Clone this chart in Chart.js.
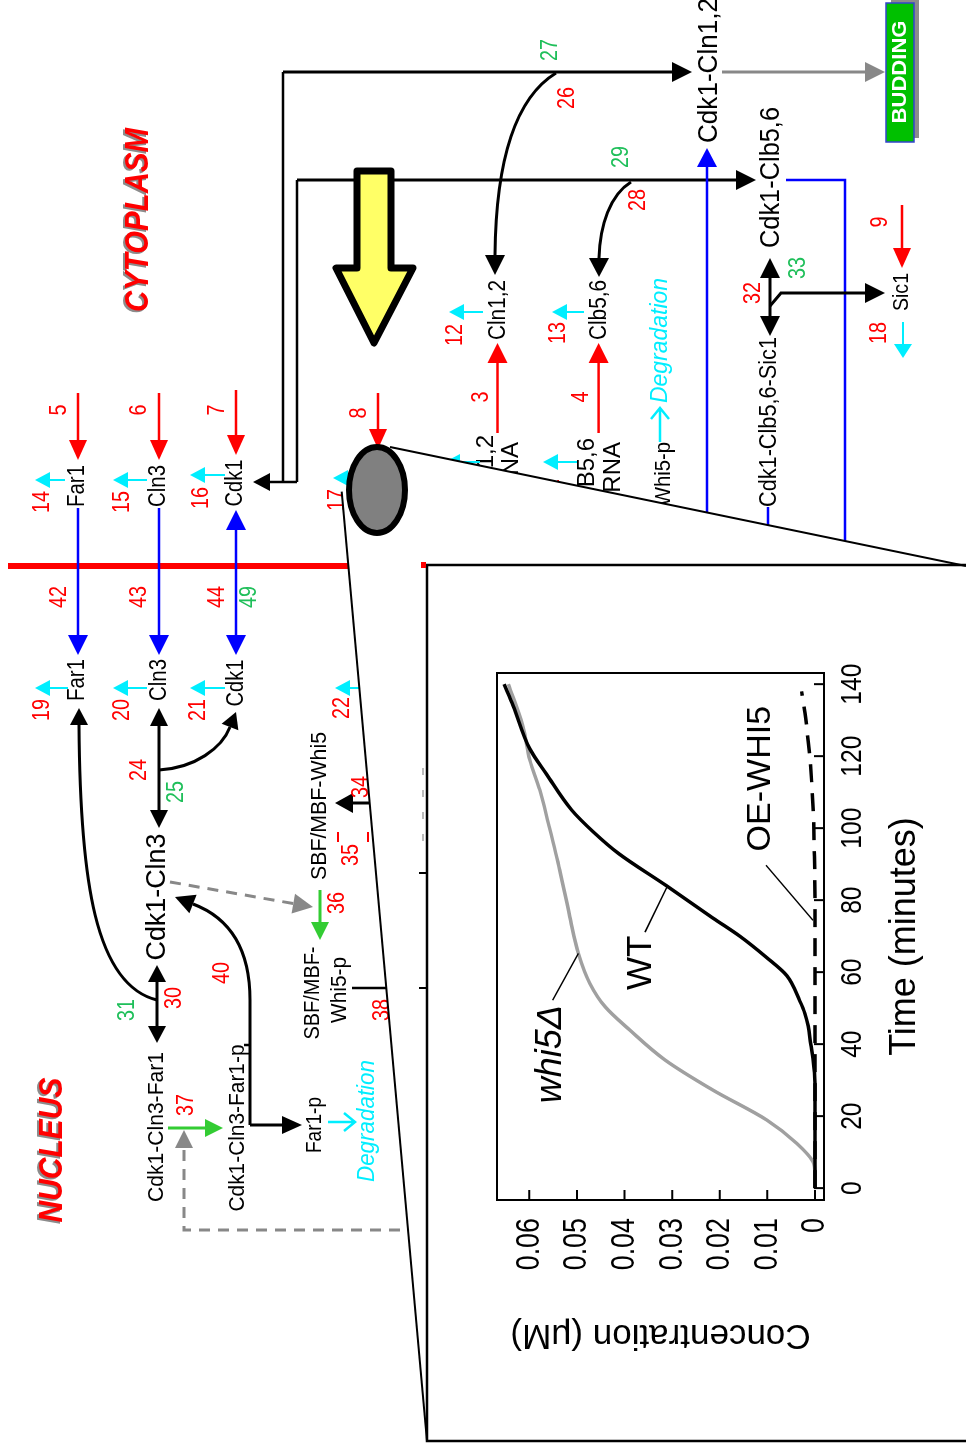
<!DOCTYPE html>
<html>
<head>
<meta charset="utf-8">
<script src="https://cdn.jsdelivr.net/npm/chart.js@4.4.1/dist/chart.umd.min.js"></script>
<style>
  html, body { margin: 0; padding: 0; background: #fff; }
  #page { position: relative; width: 966px; height: 1449px; overflow: hidden; background: #fff; }
  #diagram { position: absolute; left: 0; top: 0; }
  /* the inset is a normal chart turned a quarter turn counter-clockwise */
  #inset { position: absolute; left: 355px; top: 785px; width: 710px; height: 460px; transform: rotate(-90deg); }
</style>
</head>
<body>
<div id="page">
  <canvas id="diagram" width="966" height="1449"></canvas>
  <div id="inset"><canvas id="chart" width="710" height="460"></canvas></div>
</div>
<script>
// --- inset chart data (time in minutes, concentration in µM) ---
const wtTime = [0, 10, 20, 29, 36, 40, 45, 48.5, 52, 59, 64, 70, 75, 84, 93, 99, 105, 115, 122, 134, 140];
const wtConc = [0, 0, 0, 0, 0.0004, 0.0009, 0.0014, 0.0021, 0.0032, 0.0059, 0.0101, 0.0158, 0.0214, 0.0312, 0.0413, 0.0466, 0.0511, 0.0564, 0.0599, 0.0634, 0.0653];

const whi5Time = [0, 4, 7.3, 12.4, 18.9, 27.2, 35.6, 43.9, 50.4, 56.9, 65.2, 75.4, 88.3, 101.3, 110.6, 118.9, 128.1, 140];
const whi5Conc = [0, 0, 0.0004, 0.0038, 0.0101, 0.0214, 0.0315, 0.0389, 0.0441, 0.0473, 0.0497, 0.0515, 0.0536, 0.0560, 0.0578, 0.0599, 0.0613, 0.0644];

const oeTime = [0, 20, 40, 60, 80, 92, 106, 113, 120, 124, 132, 138];
const oeConc = [0, 0, 0, 0, 0, 0.0001, 0.0004, 0.0007, 0.0011, 0.0014, 0.0021, 0.0028];

const timeTicks = [0, 20, 40, 60, 80, 100, 120, 140];
const timeLabels = ['0', '20', '40', '60', '80', '100', '120', '140'];
const concTicks = [0, 0.01, 0.02, 0.03, 0.04, 0.05, 0.06];
const concLabels = ['0', '0.01', '0.02', '0.03', '0.04', '0.05', '0.06'];

const SANS = "'Liberation Sans', Arial, sans-serif";

// --- background diagram (page coordinates, text reads bottom to top) ---
const dg = document.getElementById('diagram').getContext('2d');
const RED = '#ff0000', GRN = '#1fbf5a', GRN_A = '#33cc33', CYAN = '#00eeff', BLUE = '#0000ff', GRAY = '#888888';

function txt(s, x, y, size, len, color, o = {}) {
  dg.save();
  dg.translate(x, y);
  dg.rotate(-Math.PI / 2);
  dg.font = (o.style || '') + ' ' + size + 'px ' + SANS;
  if (len) dg.scale(len / dg.measureText(s).width, 1);
  dg.textAlign = o.align || 'center';
  dg.textBaseline = 'middle';
  if (o.shadow) { dg.fillStyle = o.shadow; dg.fillText(s, -2, -2); }
  dg.fillStyle = color;
  dg.fillText(s, 0, 0);
  dg.restore();
}
function num(s, x, y, color) { txt(s, x, y, 23, s.length * 11, color); }

function head(tx, ty, ang, len, hw, color) {
  const c = Math.cos(ang), s = Math.sin(ang);
  const bx = tx - len * c, by = ty - len * s;
  dg.beginPath();
  dg.moveTo(tx, ty);
  dg.lineTo(bx - hw * s, by + hw * c);
  dg.lineTo(bx + hw * s, by - hw * c);
  dg.closePath();
  dg.fillStyle = color;
  dg.fill();
}
function arrow(pts, color, w, o = {}) {
  const len = o.len || 20, hw = o.hw || 9;
  const p = pts.map(q => q.slice());
  const n = p.length;
  const aEnd = Math.atan2(p[n-1][1] - p[n-2][1], p[n-1][0] - p[n-2][0]);
  const aStart = Math.atan2(p[0][1] - p[1][1], p[0][0] - p[1][0]);
  if (!o.noHead) p[n-1] = [pts[n-1][0] - len * 0.8 * Math.cos(aEnd), pts[n-1][1] - len * 0.8 * Math.sin(aEnd)];
  if (o.both) p[0] = [pts[0][0] - len * 0.8 * Math.cos(aStart), pts[0][1] - len * 0.8 * Math.sin(aStart)];
  dg.save();
  dg.strokeStyle = color;
  dg.lineWidth = w;
  if (o.dash) dg.setLineDash(o.dash);
  dg.beginPath();
  dg.moveTo(p[0][0], p[0][1]);
  for (let i = 1; i < n; i++) dg.lineTo(p[i][0], p[i][1]);
  dg.stroke();
  dg.restore();
  if (!o.noHead) head(pts[n-1][0], pts[n-1][1], aEnd, len, hw, color);
  if (o.both) head(pts[0][0], pts[0][1], aStart, len, hw, color);
}
function curve(p0, c1, c2, p3, tip, color, w, hw = 9) {
  dg.save();
  dg.strokeStyle = color;
  dg.lineWidth = w;
  dg.beginPath();
  dg.moveTo(p0[0], p0[1]);
  dg.bezierCurveTo(c1[0], c1[1], c2[0], c2[1], p3[0], p3[1]);
  dg.stroke();
  dg.restore();
  const len = Math.hypot(tip[0] - p3[0], tip[1] - p3[1]);
  head(tip[0], tip[1], Math.atan2(tip[1] - p3[1], tip[0] - p3[0]), len, hw, color);
}
function chev(x1, y1, x2, y2, color, w) {
  const a = Math.atan2(y2 - y1, x2 - x1), l = 11, h = 9;
  dg.save();
  dg.strokeStyle = color;
  dg.lineWidth = w;
  dg.beginPath();
  dg.moveTo(x1, y1); dg.lineTo(x2, y2);
  dg.moveTo(x2 - l * Math.cos(a) - h * Math.sin(a), y2 - l * Math.sin(a) + h * Math.cos(a));
  dg.lineTo(x2, y2);
  dg.lineTo(x2 - l * Math.cos(a) + h * Math.sin(a), y2 - l * Math.sin(a) - h * Math.cos(a));
  dg.stroke();
  dg.restore();
}
function seg(pts, color, w, dash) { arrow(pts, color, w, { noHead: true, dash }); }

dg.fillStyle = '#fff';
dg.fillRect(0, 0, 966, 1449);

// compartments
txt('CYTOPLASM', 139, 220, 34, 184, RED, { style: 'bold italic', shadow: '#8c8c8c' });
txt('NUCLEUS', 53, 1150, 34, 145, RED, { style: 'bold italic', shadow: '#8c8c8c' });
seg([[8, 566], [420, 566]], RED, 6);

// cytoplasm: transport to the complexes
seg([[283, 482], [283, 72]], '#000', 2.5);
arrow([[283, 72], [692, 72]], '#000', 3, { hw: 10 });
seg([[297, 482], [297, 180]], '#000', 2.5);
arrow([[297, 180], [756, 180]], '#000', 3, { hw: 10 });
arrow([[297, 482], [253, 482]], '#000', 2.5, { len: 17, hw: 9 });
arrow([[722, 72], [885, 72]], GRAY, 3, { hw: 10 });

// budding box
dg.fillStyle = '#8c8c8c';
dg.fillRect(891, -1, 28, 139);
dg.fillStyle = '#00c000';
dg.fillRect(886, 3, 28, 139);
dg.strokeStyle = '#3344cc';
dg.lineWidth = 1.5;
dg.strokeRect(886, 3, 28, 139);
txt('BUDDING', 900, 72, 21, 103, '#fff', { style: 'bold' });

txt('Cdk1-Cln1,2', 710, 143, 27, 145, '#000', { align: 'left' });
txt('Cdk1-Clb5,6', 771.5, 248, 27, 141, '#000', { align: 'left' });
num('27', 551, 50, GRN); num('26', 568, 98, RED);
num('29', 622, 157, GRN); num('28', 639, 200, RED);
curve([556, 73], [520, 95], [496, 150], [495, 255], [495, 275], '#000', 3, 10);
curve([631, 182], [610, 195], [600, 225], [599, 258], [599, 277], '#000', 3, 10);

arrow([[707, 520], [707, 148]], BLUE, 2.5, { len: 19, hw: 10 });
seg([[786, 180], [845, 180], [845, 550]], BLUE, 2.5);
seg([[768, 507], [768, 540]], BLUE, 2.5);

arrow([[770, 258], [770, 336]], '#000', 3, { both: true, hw: 10 });
arrow([[770, 306], [781, 293], [885, 293]], '#000', 3, { hw: 10 });
num('32', 754, 293, RED); num('33', 799, 268, GRN);
txt('Cdk1-Clb5,6-Sic1', 770, 507, 23, 170, '#000', { align: 'left' });
txt('Sic1', 902, 292, 22, 38, '#000');
num('9', 881, 222, RED);
arrow([[902, 205], [902, 268]], RED, 2.5);
num('18', 880, 333, RED);
arrow([[903, 322], [903, 358]], CYAN, 2, { len: 14, hw: 9 });

txt('Cln1,2', 499, 310, 23, 60, '#000');
txt('Clb5,6', 600, 310, 23, 60, '#000');
arrow([[497.5, 433], [497.5, 343]], RED, 2.5, { hw: 10 });
arrow([[598.6, 433], [598.6, 343]], RED, 2.5, { hw: 10 });
num('3', 482, 397, RED); num('4', 582, 397, RED);
num('12', 456, 335, RED); num('13', 559, 333, RED);
arrow([[483, 312], [449, 312]], CYAN, 2, { len: 15, hw: 8 });
arrow([[584, 312], [552, 312]], CYAN, 2, { len: 15, hw: 8 });
txt('CLN1,2', 486, 435, 24, 0, '#000', { align: 'right' });
txt('mRNA', 511, 442, 24, 0, '#000', { align: 'right' });
txt('CLB5,6', 587, 438, 24, 0, '#000', { align: 'right' });
txt('mRNA', 613, 442, 24, 0, '#000', { align: 'right' });
arrow([[480, 462], [445, 462]], CYAN, 2, { len: 15, hw: 8 });
arrow([[577, 462], [543, 462]], CYAN, 2, { len: 15, hw: 8 });
num('11', 553, 490, RED);
txt('Whi5-p', 664, 442, 22, 64, '#000', { align: 'right' });
chev(660, 442, 660, 408, CYAN, 2.5);
txt('Degradation', 660, 403, 24, 125, CYAN, { style: 'italic', align: 'left' });

// yellow arrow
dg.beginPath();
[[357, 171], [391, 171], [391, 268], [413, 268], [374, 343], [336, 268], [357, 268]].forEach((p, i) => i ? dg.lineTo(p[0], p[1]) : dg.moveTo(p[0], p[1]));
dg.closePath();
dg.fillStyle = '#ffff66';
dg.fill();
dg.lineJoin = 'round';
dg.lineWidth = 7;
dg.strokeStyle = '#000';
dg.stroke();
dg.lineJoin = 'miter';

// nuclear import
txt('Far1', 78, 486, 23, 42, '#000');
txt('Cln3', 159, 486, 23, 42, '#000');
txt('Cdk1', 236, 483, 23, 47, '#000');
num('5', 60, 410, RED); num('6', 140, 410, RED); num('7', 218, 410, RED); num('8', 360, 413, RED);
arrow([[78, 393], [78, 460]], RED, 2.5);
arrow([[159, 393], [159, 460]], RED, 2.5);
arrow([[236, 390], [236, 455]], RED, 2.5);
arrow([[378, 393], [378, 449]], RED, 2.5);
num('14', 43, 502, RED); num('15', 123, 502, RED); num('16', 202, 498, RED); num('17', 338, 500, RED);
arrow([[65, 480], [35, 480]], CYAN, 2, { len: 15, hw: 8 });
arrow([[147, 480], [113, 480]], CYAN, 2, { len: 15, hw: 8 });
arrow([[225, 475], [190, 475]], CYAN, 2, { len: 15, hw: 8 });
arrow([[352, 478], [333, 478]], CYAN, 2, { len: 15, hw: 8 });
arrow([[78, 508], [78, 655]], BLUE, 2.5, { hw: 10 });
arrow([[159, 508], [159, 655]], BLUE, 2.5, { hw: 10 });
arrow([[236, 510], [236, 655]], BLUE, 2.5, { both: true, hw: 10 });
num('42', 60, 597, RED); num('43', 140, 597, RED); num('44', 218, 597, RED); num('49', 250, 597, GRN);

// nucleus
txt('Far1', 78, 680, 23, 42, '#000');
txt('Cln3', 160, 680, 23, 42, '#000');
txt('Cdk1', 237, 683, 23, 47, '#000');
num('19', 43, 710, RED); num('20', 123, 710, RED); num('21', 199, 710, RED); num('22', 343, 708, RED);
arrow([[68, 688], [35, 688]], CYAN, 2, { len: 15, hw: 8 });
arrow([[147, 688], [113, 688]], CYAN, 2, { len: 15, hw: 8 });
arrow([[225, 688], [190, 688]], CYAN, 2, { len: 15, hw: 8 });
arrow([[362, 688], [335, 688]], CYAN, 2, { len: 15, hw: 8 });
arrow([[159, 708], [159, 828]], '#000', 3, { both: true, len: 18, hw: 9 });
curve([159, 770], [195, 768], [222, 748], [230, 727], [236, 712], '#000', 3, 9);
num('24', 140, 770, RED); num('25', 177, 792, GRN);
txt('Cdk1-Cln3', 157, 897, 28, 127, '#000');
arrow([[170, 882], [313, 907]], GRAY, 3, { dash: [11, 8], hw: 10 });
curve([157, 1000], [95, 985], [80, 880], [79, 725], [79, 708], '#000', 3, 9);
arrow([[157, 965], [157, 1043]], '#000', 3, { both: true, len: 17, hw: 9 });
num('31', 128, 1010, GRN); num('30', 175, 998, RED);
txt('Cdk1-Cln3-Far1', 157, 1127, 22, 150, '#000');
num('40', 223, 973, RED);
seg([[250, 1125], [250, 1000]], '#000', 3);
curve([250, 1000], [250, 950], [230, 918], [193, 904], [175, 897], '#000', 3, 10);
seg([[244, 1045], [250, 1045]], '#000', 2.5);
txt('Cdk1-Cln3-Far1-p', 238, 1128, 22, 167, '#000');
arrow([[250, 1125], [302, 1125]], '#000', 3, { hw: 9 });
arrow([[168, 1128], [223, 1128]], GRN_A, 3, { len: 18, hw: 9 });
num('37', 187, 1105, RED);
arrow([[400, 1230], [184, 1230], [184, 1130]], GRAY, 3, { dash: [11, 8], len: 18, hw: 9 });
txt('Far1-p', 315, 1125, 22, 56, '#000');
chev(328, 1122, 355, 1122, CYAN, 2.5);
txt('Degradation', 368, 1121, 23, 122, CYAN, { style: 'italic' });

txt('SBF/MBF-Whi5', 320, 806, 22, 148, '#000');
arrow([[376, 803], [335, 803]], '#000', 3, { len: 18, hw: 10 });
num('34', 362, 787, RED);
num('35', 352, 855, RED);
seg([[338, 832], [338, 842]], RED, 2);
seg([[368, 832], [368, 842]], RED, 2);
arrow([[320, 890], [320, 940]], GRN_A, 3, { len: 18, hw: 9 });
num('36', 338, 903, RED);
txt('SBF/MBF-', 313, 993, 22, 93, '#000');
txt('Whi5-p', 340, 990, 22, 66, '#000');
seg([[352, 988], [392, 988]], '#000', 2.5);
num('38', 383, 1010, RED);

// magnifier callout: white wedge, lines, frame, lens
dg.beginPath();
[[390, 447], [966, 566], [966, 1441], [427, 1441], [341.7, 491.7], [377, 490]].forEach((p, i) => i ? dg.lineTo(p[0], p[1]) : dg.moveTo(p[0], p[1]));
dg.closePath();
dg.fillStyle = '#fff';
dg.fill();
seg([[390, 447], [966, 566]], '#000', 2);
seg([[341.7, 491.7], [427, 1441]], '#000', 2);
seg([[966, 565], [427, 565], [427, 1441], [966, 1441]], '#000', 2.5);
dg.fillStyle = RED;
dg.fillRect(421, 562, 5, 6);
[768, 790, 812, 834].forEach(y => seg([[423, y], [423, y + 7]], '#bbbbbb', 2));
seg([[419, 873], [427, 873]], '#000', 2);
seg([[419, 988], [427, 988]], '#000', 2);

dg.beginPath();
dg.ellipse(377, 490, 28, 43, 0, 0, Math.PI * 2);
dg.fillStyle = '#808080';
dg.fill();
dg.lineWidth = 6;
dg.strokeStyle = '#000';
dg.stroke();

// --- inset chart ---
const pairs = (xs, ys) => xs.map((x, i) => ({ x, y: ys[i] }));

// curve labels and their leader lines, in data units
const curveLabels = [
  { text: 'OE-WHI5', t: 113.75, c: 0.01145, font: 'normal 34px', from: [89.7, 0.01029], to: [74.4, 0.00042] },
  { text: 'WT', t: 62.6, c: 0.03645, font: 'normal 35px', from: [71.1, 0.0357], to: [83.6, 0.0311] },
  { text: 'whi5\u0394', t: 37.2, c: 0.05546, font: 'italic 36px', from: [52.2, 0.0551], to: [65.2, 0.0497] }
];

// frame, inward ticks, condensed tick labels and curve labels
const insetPlugin = {
  id: 'insetFrame',
  afterDatasetsDraw(chart) {
    const { ctx, chartArea: a, scales: { x, y } } = chart;
    ctx.save();
    ctx.strokeStyle = '#000';
    ctx.lineWidth = 2;
    ctx.strokeRect(a.left, a.top, a.right - a.left, a.bottom - a.top);
    ctx.beginPath();
    timeTicks.forEach(v => {
      const px = x.getPixelForValue(v);
      ctx.moveTo(px, a.bottom);
      ctx.lineTo(px, a.bottom - 10);
    });
    concTicks.forEach(v => {
      const py = y.getPixelForValue(v);
      ctx.moveTo(a.left, py);
      ctx.lineTo(a.left + 10, py);
    });
    ctx.stroke();

    ctx.fillStyle = '#000';
    ctx.textBaseline = 'middle';
    ctx.font = '30px ' + SANS;
    ctx.textAlign = 'center';
    timeTicks.forEach((v, i) => {
      ctx.save();
      ctx.translate(x.getPixelForValue(v), a.bottom + 29);
      ctx.scale(0.82, 1);
      ctx.fillText(timeLabels[i], 0, 0);
      ctx.restore();
    });
    ctx.font = '34px ' + SANS;
    ctx.textAlign = 'right';
    concTicks.forEach((v, i) => {
      ctx.save();
      ctx.translate(a.left - 18, y.getPixelForValue(v));
      ctx.scale(0.79, 1);
      ctx.fillText(concLabels[i], 0, 0);
      ctx.restore();
    });

    ctx.lineWidth = 1.5;
    ctx.textAlign = 'center';
    curveLabels.forEach(l => {
      ctx.beginPath();
      ctx.moveTo(x.getPixelForValue(l.from[0]), y.getPixelForValue(l.from[1]));
      ctx.lineTo(x.getPixelForValue(l.to[0]), y.getPixelForValue(l.to[1]));
      ctx.stroke();
      ctx.font = l.font + ' ' + SANS;
      ctx.fillText(l.text, x.getPixelForValue(l.t), y.getPixelForValue(l.c));
    });
    ctx.restore();
  }
};

function fixBox(size, key) {
  return s => {
    s[key] = size;
    s.paddingTop = 0; s.paddingBottom = 0; s.paddingLeft = 0; s.paddingRight = 0;
  };
}

new Chart(document.getElementById('chart'), {
  type: 'line',
  data: {
    datasets: [
      { label: 'OE-WHI5', data: pairs(oeTime, oeConc), borderColor: '#000', borderWidth: 3.5, borderDash: [18, 11], order: 0 },
      { label: 'WT', data: pairs(wtTime, wtConc), borderColor: '#000', borderWidth: 3.5, order: 1 },
      { label: 'whi5\u0394', data: pairs(whi5Time, whi5Conc), borderColor: '#a0a0a0', borderWidth: 3.5, order: 2 }
    ]
  },
  options: {
    responsive: false,
    animation: false,
    devicePixelRatio: 1,
    elements: { point: { radius: 0 }, line: { cubicInterpolationMode: 'monotone' } },
    layout: { padding: { top: 17, right: 13, left: 0, bottom: 0 } },
    plugins: { legend: { display: false }, tooltip: { enabled: false } },
    scales: {
      x: {
        type: 'linear', min: -3.3, max: 143.1,
        grid: { display: false }, border: { display: false },
        afterBuildTicks: s => { s.ticks = timeTicks.map(v => ({ value: v })); },
        afterFit: fixBox(116, 'height'),
        ticks: { display: false },
        title: { display: true, text: 'Time (minutes)', color: '#000', font: { family: SANS, size: 36 }, padding: { top: 0, bottom: 13 } }
      },
      y: {
        type: 'linear', min: -0.0019, max: 0.0668,
        grid: { display: false }, border: { display: false },
        afterBuildTicks: s => { s.ticks = concTicks.map(v => ({ value: v })); },
        afterFit: fixBox(170, 'width'),
        ticks: { display: false },
        title: { display: true, text: 'Concentration (\u03bcM)', color: '#000', font: { family: SANS, size: 35 }, padding: { top: 14, bottom: 0 } }
      }
    }
  },
  plugins: [insetPlugin]
});
</script>
</body>
</html>
